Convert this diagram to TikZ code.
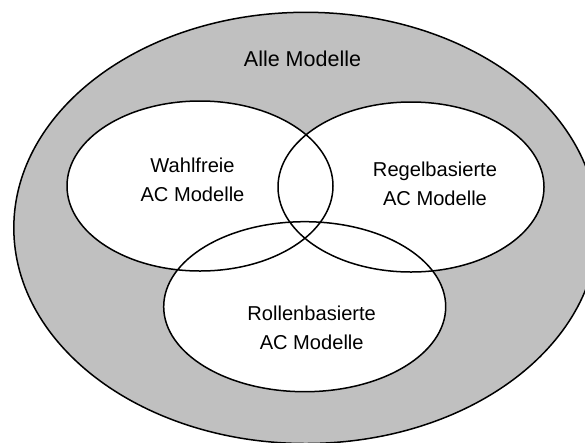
\documentclass[tikz,border=0pt]{standalone}
\usepackage{fontspec}
\setmainfont{Liberation Sans}
\definecolor{setgrey}{RGB}{192,192,192}
\begin{document}
\begin{tikzpicture}[x=1pt,y=-1pt,
  setline/.style={line width=1.5pt,draw=black},
  label/.style={inner sep=0pt,align=center,font=\fontsize{20.1}{29}\selectfont}]
  \useasboundingbox (0,0) rectangle (585,442);
  \clip (0,0) rectangle (585,442);
  % universe of all models
  \draw[setline,fill=setgrey] (305.8,227.9) ellipse [x radius=292,y radius=215.6];
  % white interiors of the three model classes
  \fill[white] (200,186) ellipse [x radius=133,y radius=85];
  \fill[white] (411,187) ellipse [x radius=133,y radius=85];
  \fill[white] (304.7,306.7) ellipse [x radius=141,y radius=85];
  % outlines drawn on top so every crossing stays visible
  \draw[setline] (200,186) ellipse [x radius=133,y radius=85];
  \draw[setline] (411,187) ellipse [x radius=133,y radius=85];
  \draw[setline] (304.7,306.7) ellipse [x radius=141,y radius=85];
  % labels
  \node[label,anchor=base,font=\fontsize{21.5}{29}\selectfont] (alle) at (302.5,66.7) {Alle Modelle};
  \node[label] (wahl) at (192.5,180) {Wahlfreie\\AC Modelle};
  \node[label] (regel) at (435,183.8) {Regelbasierte\\AC Modelle};
  \node[label] (rolle) at (311.7,327.7) {Rollenbasierte\\AC Modelle};
\end{tikzpicture}
\end{document}
